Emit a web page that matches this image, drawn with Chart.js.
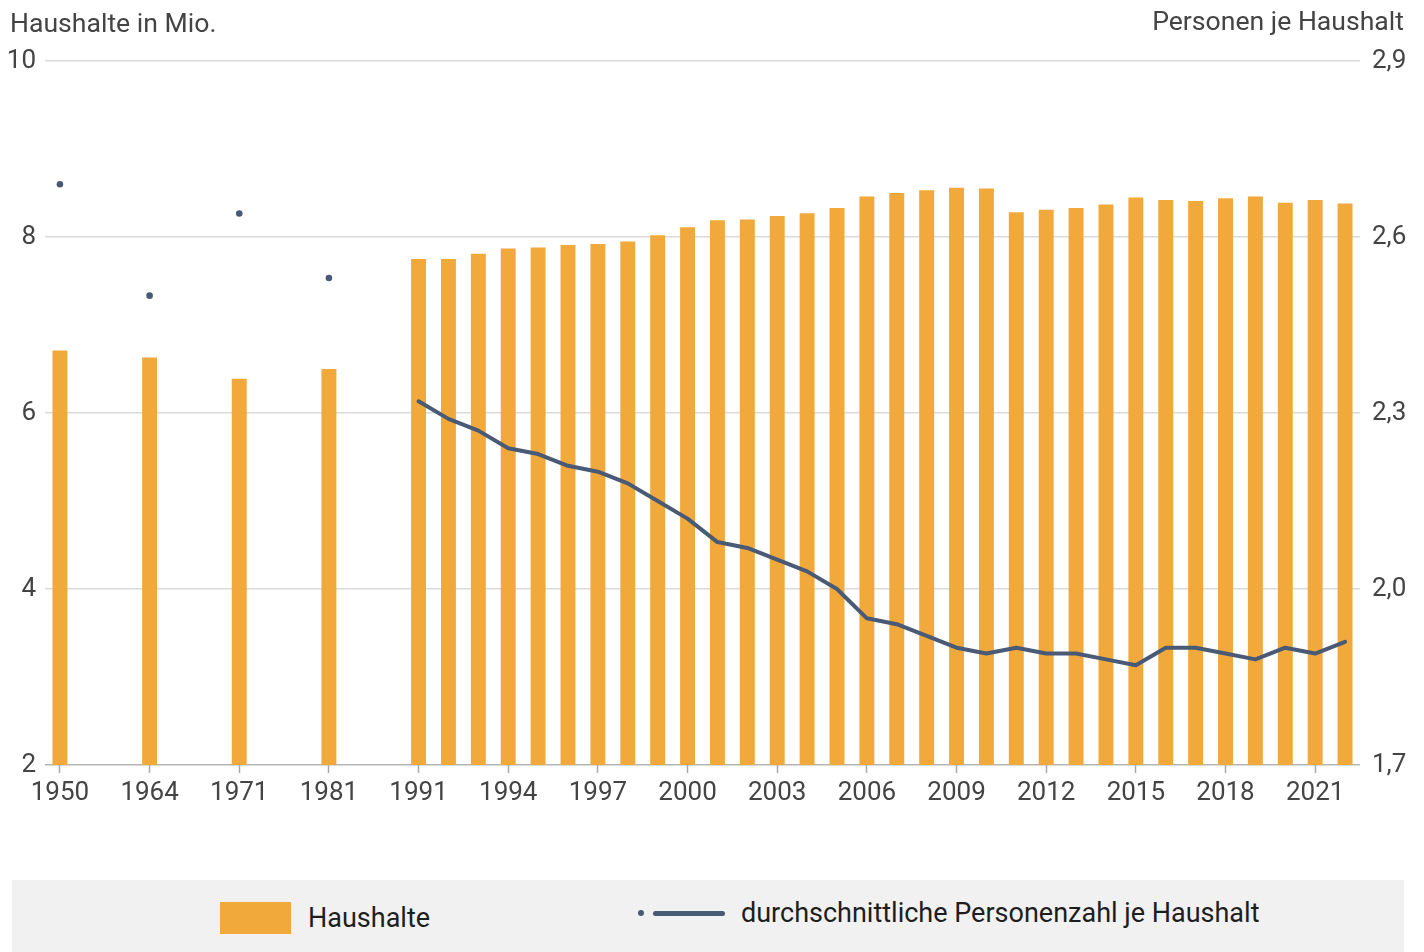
<!DOCTYPE html>
<html lang="de">
<head>
<meta charset="utf-8">
<title>Haushalte und Personen je Haushalt</title>
<script src="https://cdn.jsdelivr.net/npm/chart.js@4.4.1/dist/chart.umd.min.js"></script>
<style>
  body { margin: 0; background: #fff; font-family: Roboto, sans-serif; }
  #wrap { position: relative; width: 1424px; height: 952px; overflow: hidden; }
  #chartBox { position: absolute; left: 0; top: 0; width: 1424px; height: 860px; }
  #legend {
    position: absolute; left: 12px; top: 880px; width: 1392px; height: 72px;
    background: #f1f1f1; color: #1e1e1e; font-size: 27px;
  }
  .lg-item { position: absolute; top: 0; height: 72px; display: flex; align-items: center; }
  .swatch-bar { width: 71px; height: 32px; background: #f2a93b; margin-right: 17px; }
  .swatch-dot { width: 6px; height: 6px; border-radius: 50%; background: #495a76; margin-right: 9px; }
  .swatch-line { width: 72px; height: 5px; border-radius: 3px; background: #495a76; margin-right: 16px; }
</style>
</head>
<body>
<div id="wrap">
  <div id="chartBox"><canvas id="hhChart"></canvas></div>
  <div id="legend">
    <div class="lg-item" style="left:208px; top:2px;"><span class="swatch-bar"></span><span>Haushalte</span></div>
    <div class="lg-item" style="left:626px; top:-3px;"><span class="swatch-dot"></span><span class="swatch-line"></span><span>durchschnittliche Personenzahl je Haushalt</span></div>
  </div>
</div>
<script>
// categories: one slot per year from 1991, gaps of two empty slots before that
const categories = [
  '1950', '', '', '1964', '', '', '1971', '', '', '1981', '', '',
  '1991', '1992', '1993', '1994', '1995', '1996', '1997', '1998', '1999', '2000',
  '2001', '2002', '2003', '2004', '2005', '2006', '2007', '2008', '2009', '2010',
  '2011', '2012', '2013', '2014', '2015', '2016', '2017', '2018', '2019', '2020',
  '2021', '2022'
];

// Haushalte in Mio.
const households = [
  6.71, null, null, 6.63, null, null, 6.39, null, null, 6.50, null, null,
  7.75, 7.75, 7.81, 7.87, 7.88, 7.91, 7.92, 7.95, 8.02, 8.11,
  8.19, 8.20, 8.24, 8.27, 8.33, 8.46, 8.50, 8.53, 8.56, 8.55,
  8.28, 8.31, 8.33, 8.37, 8.45, 8.42, 8.41, 8.44, 8.46, 8.39,
  8.42, 8.38
];

// durchschnittliche Personenzahl je Haushalt
const personsPerHousehold = [
  2.69, null, null, 2.50, null, null, 2.64, null, null, 2.53, null, null,
  2.32, 2.29, 2.27, 2.24, 2.23, 2.21, 2.20, 2.18, 2.15, 2.12,
  2.08, 2.07, 2.05, 2.03, 2.00, 1.95, 1.94, 1.92, 1.90, 1.89,
  1.90, 1.89, 1.89, 1.88, 1.87, 1.90, 1.90, 1.89, 1.88, 1.90,
  1.89, 1.91
];

const leftTicks = { min: 2, max: 10, step: 2 };
const rightTicks = { min: 1.7, max: 2.9, step: 0.3 };

const textColor = '#444';
const tickFont = { family: 'Roboto', size: 26 };

// axis titles above the plot
const axisTitles = {
  id: 'axisTitles',
  afterDraw(chart) {
    const ctx = chart.ctx;
    ctx.save();
    ctx.font = '26.6px Roboto';
    ctx.fillStyle = textColor;
    ctx.textBaseline = 'alphabetic';
    ctx.textAlign = 'left';
    ctx.fillText('Haushalte in Mio.', 10, 32);
    ctx.textAlign = 'right';
    ctx.fillText('Personen je Haushalt', 1404, 30);
    ctx.restore();
  }
};

const ctx = document.getElementById('hhChart').getContext('2d');
new Chart(ctx, {
  data: {
    labels: categories,
    datasets: [
      {
        type: 'line',
        label: 'durchschnittliche Personenzahl je Haushalt',
        data: personsPerHousehold,
        yAxisID: 'yRight',
        borderColor: '#495a76',
        backgroundColor: '#495a76',
        borderWidth: 4,
        borderCapStyle: 'round',
        borderJoinStyle: 'round',
        tension: 0,
        spanGaps: false,
        pointRadius: c => (c.dataIndex < 12 ? 3.3 : 0),
        pointBorderWidth: 0,
        pointHoverRadius: 0,
        order: 0
      },
      {
        type: 'bar',
        label: 'Haushalte',
        data: households,
        yAxisID: 'yLeft',
        backgroundColor: '#f2a93b',
        barPercentage: 1,
        categoryPercentage: 0.5,
        order: 1
      }
    ]
  },
  options: {
    responsive: true,
    maintainAspectRatio: false,
    animation: false,
    layout: { padding: { top: 61, left: 0, right: 0, bottom: 45 } },
    plugins: {
      legend: { display: false },
      tooltip: { enabled: false }
    },
    scales: {
      x: {
        type: 'category',
        offset: true,
        afterFit: s => { s.height = 50; },
        border: { display: false },
        grid: {
          offset: false,
          drawOnChartArea: false,
          drawTicks: true,
          tickLength: 8,
          tickWidth: 1.5,
          tickColor: c => (c.index % 3 === 0 ? '#a8a8a8' : 'rgba(0,0,0,0)')
        },
        ticks: {
          autoSkip: false,
          maxRotation: 0,
          padding: 5,
          color: textColor,
          font: tickFont,
          callback: (v, i) => (i % 3 === 0 ? categories[i] : '')
        }
      },
      yLeft: {
        position: 'left',
        min: leftTicks.min,
        max: leftTicks.max,
        afterFit: s => { s.width = 45; },
        border: { display: false },
        grid: {
          drawTicks: false,
          lineWidth: 1.5,
          color: c => (c.tick && c.tick.value === leftTicks.min ? '#b5b5b5' : '#dadada')
        },
        ticks: {
          stepSize: leftTicks.step,
          padding: 9,
          color: textColor,
          font: tickFont
        }
      },
      yRight: {
        position: 'right',
        min: rightTicks.min,
        max: rightTicks.max,
        afterFit: s => { s.width = 64; },
        border: { display: false },
        grid: { drawOnChartArea: false, drawTicks: false },
        ticks: {
          stepSize: rightTicks.step,
          padding: 12,
          color: textColor,
          font: tickFont,
          callback: v => v.toFixed(1).replace('.', ',')
        }
      }
    }
  },
  plugins: [axisTitles]
});
</script>
</body>
</html>
